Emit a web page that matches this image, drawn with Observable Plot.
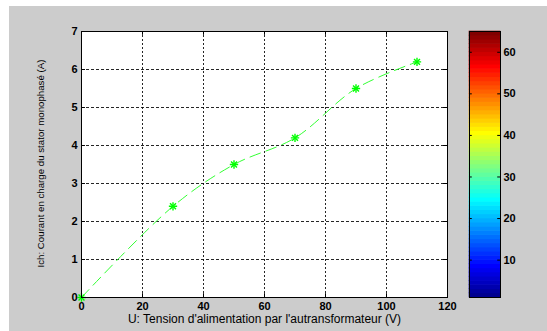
<!DOCTYPE html>
<html>
<head>
<meta charset="utf-8">
<script src="https://cdn.jsdelivr.net/npm/d3@7"></script>
<script src="https://cdn.jsdelivr.net/npm/@observablehq/plot@0.6"></script>
<style>
  html, body { margin: 0; padding: 0; background: #ffffff; }
  #wrap { position: relative; width: 547px; height: 331px; overflow: hidden; background: #ffffff; }
  #bg { position: absolute; left: 9px; top: 6px; right: 0; bottom: 0; background: #cccccc; }
  #wrap svg { position: absolute; left: 0; top: 0; }
</style>
</head>
<body>
<div id="wrap"><div id="bg"></div></div>
<script>
// Data
const voltage = [0, 30, 50, 70, 90, 110];
const current = [0, 2.4, 3.5, 4.2, 5.5, 6.2];
const xTicks = [0, 20, 40, 60, 80, 100, 120];
const yTicks = [0, 1, 2, 3, 4, 5, 6, 7];
const cbarTicks = [10, 20, 30, 40, 50, 60];
const cbarDomain = [1, 65];
const xLabel = "U: Tension d'alimentation par l'autransformateur (V)";
const yLabel = "Ich: Courant en charge du stator monophasé (A)";

const points = voltage.map((v, i) => ({u: v, i: current[i]}));

const font = "'Liberation Sans', Arial, sans-serif";
const wrap = document.getElementById("wrap");

const main = Plot.plot({
  width: 547,
  height: 331,
  marginLeft: 81,
  marginRight: 100,
  marginTop: 31,
  marginBottom: 34,
  style: {background: "transparent", fontFamily: font, fontSize: "11px", color: "#000"},
  x: {domain: [0, 120], ticks: xTicks},
  y: {domain: [0, 7], ticks: yTicks},
  marks: [
    Plot.frame({fill: "#ffffff", stroke: "none"}),
    Plot.gridX(xTicks, {stroke: "#000", strokeOpacity: 0.85, strokeDasharray: "2,2"}),
    Plot.gridY(yTicks, {stroke: "#000", strokeOpacity: 0.85, strokeDasharray: "3,2"}),
    // inward tick marks (all four sides)
    Plot.ruleY(yTicks, {x1: 0, x2: 1.3, stroke: "#000"}),
    Plot.ruleY(yTicks, {x1: 118.7, x2: 120, stroke: "#000"}),
    Plot.ruleX(xTicks, {y1: 0, y2: 0.1, stroke: "#000"}),
    Plot.ruleX(xTicks, {y1: 6.9, y2: 7, stroke: "#000"}),
    Plot.line(points, {x: "u", y: "i", stroke: "#33ff33", strokeWidth: 1, strokeDasharray: "11,6", curve: "catmull-rom"}),
    Plot.dot(points, {x: "u", y: "i", symbol: "plus", r: 2.8, stroke: "#00ff00", strokeWidth: 1.4}),
    Plot.dot(points, {x: "u", y: "i", symbol: "times", r: 2.8, stroke: "#00ff00", strokeWidth: 1.4}),
    Plot.frame({stroke: "#000", strokeWidth: 1}),
    Plot.axisX({ticks: xTicks, tickSize: 0, tickPadding: 5, tickFormat: d3.format("d"), label: null, fontWeight: "bold", fontSize: 11}),
    Plot.axisY({ticks: yTicks, tickSize: 0, tickPadding: 4, tickFormat: d3.format("d"), label: null, fontWeight: "bold", fontSize: 11}),
    Plot.text([xLabel], {frameAnchor: "bottom", dy: 22, lineAnchor: "middle", fontSize: 12, fill: "#000"}),
    Plot.text([yLabel], {frameAnchor: "left", dx: -41, dy: -1, rotate: -90, textAnchor: "middle", lineAnchor: "middle", fontSize: 9.7, fill: "#000"})
  ]
});
wrap.appendChild(main);

// jet(64) colormap
function jet(t) {
  const c = v => Math.max(0, Math.min(1, v));
  const r = c(1.5 - Math.abs(4 * t - 3));
  const g = c(1.5 - Math.abs(4 * t - 2));
  const b = c(1.5 - Math.abs(4 * t - 1));
  return d3.rgb(r * 255, g * 255, b * 255).formatHex();
}
const bins = d3.range(64).map(i => ({y1: cbarDomain[0] + i, y2: cbarDomain[0] + i + 1, color: jet((i + 1) / 64)}));

const cbar = Plot.plot({
  width: 547,
  height: 331,
  marginLeft: 469,
  marginRight: 47,
  marginTop: 31,
  marginBottom: 34,
  style: {background: "transparent", fontFamily: font, fontSize: "11px", color: "#000"},
  x: {domain: [0, 1], axis: null},
  y: {domain: cbarDomain},
  marks: [
    Plot.rect(bins, {x1: 0, x2: 1, y1: "y1", y2: "y2", fill: "color", inset: -0.3}),
    Plot.ruleY(cbarTicks, {x1: 0, x2: 0.09, stroke: "#000"}),
    Plot.ruleY(cbarTicks, {x1: 0.91, x2: 1, stroke: "#000"}),
    Plot.frame({stroke: "#000"}),
    Plot.axisY({anchor: "right", ticks: cbarTicks, tickSize: 0, tickPadding: 3, label: null, fontWeight: "bold", fontSize: 11})
  ]
});
wrap.appendChild(cbar);
</script>
</body>
</html>
